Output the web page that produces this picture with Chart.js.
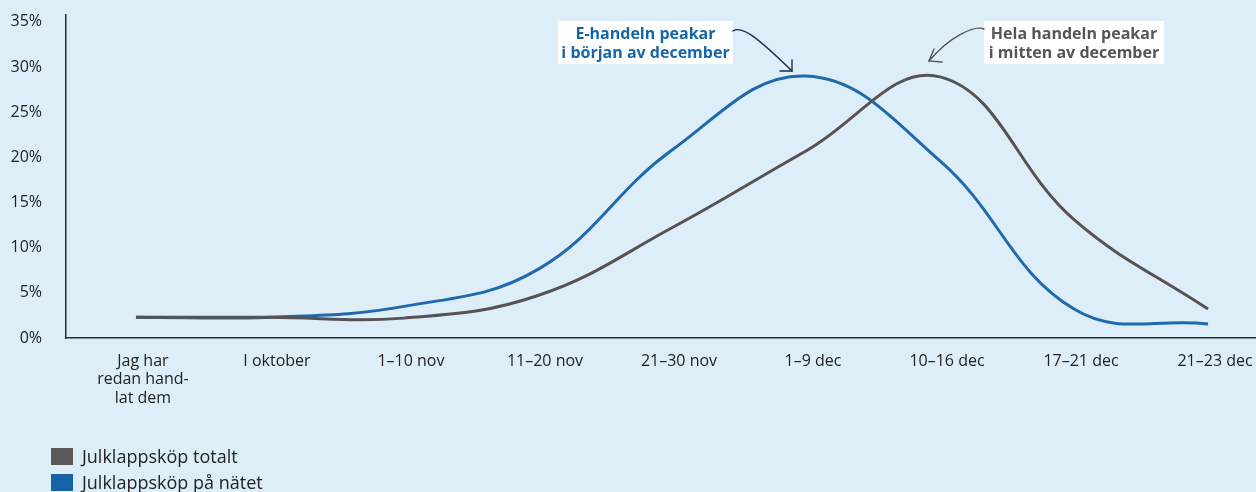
<!DOCTYPE html>
<html lang="sv">
<head>
<meta charset="utf-8">
<title>Julklappsköp</title>
<script src="https://cdn.jsdelivr.net/npm/chart.js@4/dist/chart.umd.min.js"></script>
<style>
  html, body { margin: 0; padding: 0; background: #ddeef9; overflow: hidden; }
  #wrap { position: relative; width: 1256px; height: 492px; background: #ddeef9; }
  canvas { position: absolute; left: 0; top: 0; }
  .legend { position: absolute; left: 51px; font-family: "Open Sans", Roboto, sans-serif; font-size: 18px; color: #222; line-height: 17px; white-space: nowrap; }
  .legend span.sw { display: inline-block; width: 22px; height: 17px; vertical-align: top; margin-right: 9px; }
</style>
</head>
<body>
<div id="wrap">
  <canvas id="c" width="1256" height="492"></canvas>
  <div id="legend"></div>
</div>
<script>
// Period labels (x axis)
const periods = [
  ['Jag har', 'redan hand-', 'lat dem'],
  ['I oktober'],
  ['1–10 nov'],
  ['11–20 nov'],
  ['21–30 nov'],
  ['1–9 dec'],
  ['10–16 dec'],
  ['17–21 dec'],
  ['21–23 dec']
];

// Share of respondents (%) per period
const totalt = [2.3, 2.3, 2.2, 4.7, 12.2, 20.7, 28.9, 13.1, 3.2];
const natet  = [2.3, 2.3, 3.5, 7.6, 20.8, 29.0, 19.6, 3.2, 1.55];

const seriesNames = ['Julklappsköp totalt', 'Julklappsköp på nätet'];
const seriesColors = ['#575354', '#1f69ad'];
const swatchColors = ['#5b5858', '#1763a6'];
const yTicks = [0, 5, 10, 15, 20, 25, 30, 35];

const FONT = '"Open Sans", Roboto, sans-serif';

// Callout boxes with arrows pointing at each peak
const callouts = {
  id: 'callouts',
  afterDraw(chart) {
    const ctx = chart.ctx;
    ctx.save();
    const boxes = [
      { x: 558, y: 21, w: 175, h: 43, color: '#1466a8', lines: ['E-handeln peakar', 'i början av december'] },
      { x: 984, y: 21, w: 180, h: 43, color: '#555555', lines: ['Hela handeln peakar', 'i mitten av december'] }
    ];
    boxes.forEach(b => {
      ctx.fillStyle = '#ffffff';
      ctx.fillRect(b.x, b.y, b.w, b.h);
      ctx.fillStyle = b.color;
      ctx.font = 'bold 16px ' + FONT;
      ctx.textAlign = 'center';
      ctx.textBaseline = 'middle';
      ctx.fillText(b.lines[0], b.x + b.w / 2, b.y + 13, b.w - 4);
      ctx.fillText(b.lines[1], b.x + b.w / 2, b.y + 32, b.w - 4);
    });

    ctx.lineWidth = 1.4;
    ctx.lineCap = 'round';
    // arrow toward the online peak
    ctx.strokeStyle = '#1c2b52';
    ctx.beginPath();
    ctx.moveTo(733, 31);
    ctx.bezierCurveTo(742, 25, 758, 38, 792, 71);
    ctx.stroke();
    ctx.beginPath();
    ctx.moveTo(780, 71);
    ctx.lineTo(792, 71);
    ctx.lineTo(792, 60);
    ctx.stroke();

    // arrow toward the overall peak
    ctx.strokeStyle = '#555555';
    ctx.beginPath();
    ctx.moveTo(984, 29);
    ctx.bezierCurveTo(975, 25, 950, 36, 929, 61);
    ctx.stroke();
    ctx.beginPath();
    ctx.moveTo(934, 49);
    ctx.lineTo(929, 61);
    ctx.lineTo(942, 62);
    ctx.stroke();
    ctx.restore();
  }
};

const noPad = s => { s.paddingTop = 0; s.paddingBottom = 0; s.paddingLeft = 0; s.paddingRight = 0; };

const chart = new Chart(document.getElementById('c'), {
  type: 'line',
  data: {
    datasets: [
      {
        label: seriesNames[0],
        data: totalt.map((v, i) => ({ x: i, y: v })),
        borderColor: seriesColors[0],
        backgroundColor: seriesColors[0],
        borderWidth: 3,
        pointRadius: 0,
        tension: 0.4,
        fill: false
      },
      {
        label: seriesNames[1],
        data: natet.map((v, i) => ({ x: i, y: v })),
        borderColor: seriesColors[1],
        backgroundColor: seriesColors[1],
        borderWidth: 3,
        pointRadius: 0,
        tension: 0.4,
        fill: false
      }
    ]
  },
  options: {
    responsive: false,
    animation: false,
    layout: { padding: { top: 15, left: 0, right: 0, bottom: 0 } },
    plugins: { legend: { display: false }, tooltip: { enabled: false } },
    scales: {
      x: {
        type: 'linear',
        min: -0.522,
        max: 8.358,
        afterBuildTicks: s => { s.ticks = periods.map((p, i) => ({ value: i })); },
        afterFit: s => { s.height = 154; noPad(s); },
        grid: { display: false, drawTicks: false },
        border: { display: true, color: '#2a2a2a', width: 1.5 },
        ticks: {
          autoSkip: false,
          maxRotation: 0,
          padding: 14,
          labelOffset: 7,
          color: '#222',
          font: { family: FONT, size: 16, lineHeight: 1.15 },
          callback: v => periods[v]
        }
      },
      y: {
        min: 0,
        max: 35.75,
        afterBuildTicks: s => { s.ticks = yTicks.map(v => ({ value: v })); },
        afterFit: s => { s.width = 66; noPad(s); },
        grid: { display: false, drawTicks: false },
        border: { display: true, color: '#2a2a2a', width: 1.5 },
        ticks: {
          padding: 24,
          color: '#222',
          font: { family: FONT, size: 16 },
          callback: v => v + '%'
        }
      }
    }
  },
  plugins: [callouts]
});

// Legend below the chart
const legend = document.getElementById('legend');
seriesNames.forEach((name, i) => {
  const row = document.createElement('div');
  row.className = 'legend';
  row.style.top = (448 + i * 26) + 'px';
  const sw = document.createElement('span');
  sw.className = 'sw';
  sw.style.background = swatchColors[i];
  row.appendChild(sw);
  row.appendChild(document.createTextNode(name));
  legend.appendChild(row);
});
</script>
</body>
</html>
